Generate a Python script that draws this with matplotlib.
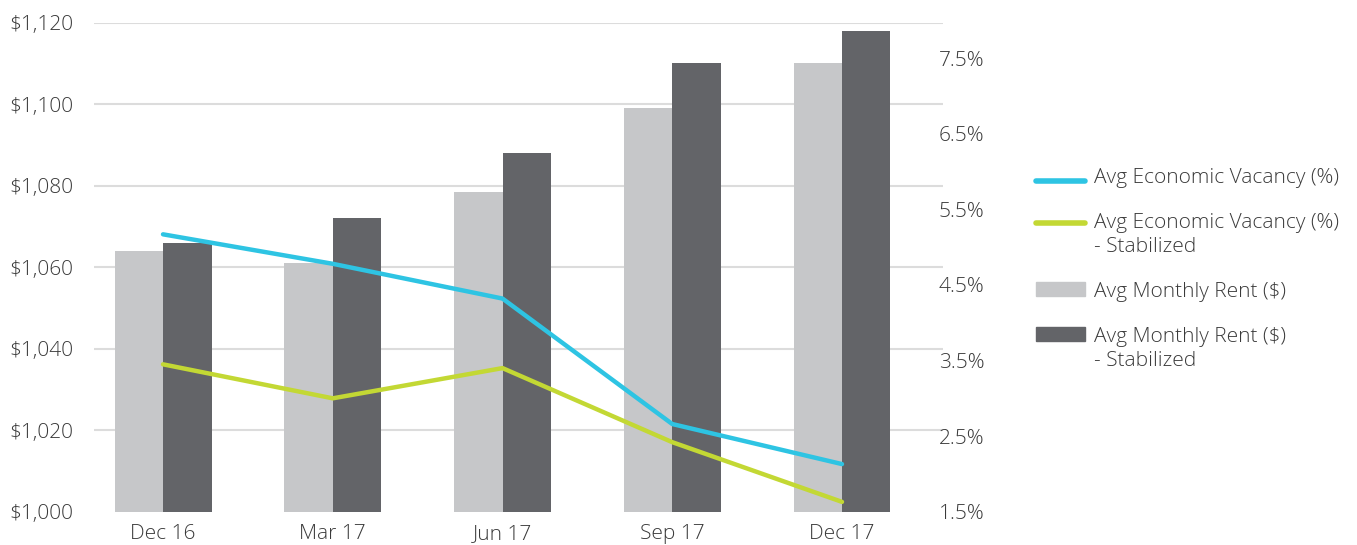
import matplotlib
matplotlib.use("Agg")
import matplotlib.pyplot as plt
import numpy as np
from matplotlib.lines import Line2D
from matplotlib.patches import Rectangle
from matplotlib import font_manager

# ---- data ----
categories = ["Dec 16", "Mar 17", "Jun 17", "Sep 17", "Dec 17"]
rent = [1064, 1061, 1078.5, 1099, 1110]
rent_stab = [1066, 1072, 1088, 1110, 1118]
vacancy = [5.17, 4.78, 4.32, 2.66, 2.13]
vacancy_stab = [3.45, 3.00, 3.40, 2.42, 1.63]
left_ticks = [1000, 1020, 1040, 1060, 1080, 1100, 1120]
left_labels = ["$1,000", "$1,020", "$1,040", "$1,060", "$1,080", "$1,100", "$1,120"]
right_ticks = [1.5, 2.5, 3.5, 4.5, 5.5, 6.5, 7.5]
right_labels = ["1.5%", "2.5%", "3.5%", "4.5%", "5.5%", "6.5%", "7.5%"]
legend_labels = ["Avg Economic Vacancy (%)", "Avg Economic Vacancy (%)\n- Stabilized",
                 "Avg Monthly Rent ($)", "Avg Monthly Rent ($)\n- Stabilized"]

# ---- style ----
FONT = ["Open Sans", "DejaVu Sans"]
plt.rcParams["font.family"] = FONT
plt.rcParams["font.weight"] = "light"
TXT = "#3a3a3a"
C_LIGHT = "#c6c7c9"
C_DARK = "#636468"
C_BLUE = "#2ec4e3"
C_GREEN = "#c3d834"
GRID = "#dcdcdc"

W, H = 1357, 545
fig = plt.figure(figsize=(W / 100, H / 100), dpi=100)
ax_l, ax_r, ax_b, ax_t = 94, 943, 511.7, 22.7
ax = fig.add_axes([ax_l / W, 1 - ax_b / H, (ax_r - ax_l) / W, (ax_b - ax_t) / H])
ax2 = ax.twinx()

x = np.arange(len(categories))
bw = 0.2857
ax.bar(x - bw / 2, rent, width=bw, color=C_LIGHT, zorder=2)
ax.bar(x + bw / 2, rent_stab, width=bw, color=C_DARK, zorder=2)
ax.set_ylim(1000, 1120)
ax.set_xlim(-0.4065, 4.595)
ax.hlines(left_ticks[1:], -0.4065, 4.595, colors=GRID, linewidth=1.5, zorder=1)

ax.set_yticks(left_ticks)
ax.set_yticklabels(left_labels)
ax.set_xticks(x)
ax.set_xticklabels(categories)
ax.tick_params(axis="y", length=0, pad=15, labelsize=15, labelcolor=TXT)
ax.tick_params(axis="x", length=0, pad=9, labelsize=15, labelcolor=TXT)

ax2.plot(x, vacancy, color=C_BLUE, linewidth=3.2, solid_capstyle="round", zorder=3)
ax2.plot(x, vacancy_stab, color=C_GREEN, linewidth=3.2, solid_capstyle="round", zorder=3)
ax2.set_ylim(1.5, 7.97)
ax2.set_yticks(right_ticks)
ax2.set_yticklabels(right_labels)
ax2.tick_params(axis="y", length=0, pad=-3, labelsize=15, labelcolor=TXT)

for a in (ax, ax2):
    for s in a.spines.values():
        s.set_visible(False)

# ---- legend (manual, first-line aligned) ----
def fx(px):
    return px / W

def fy(py):
    return 1 - py / H

hx0, hx1, tx = 1036, 1085, 1094
fs = 15
for col, ly, base, lab in [(C_BLUE, 181, 183.3, legend_labels[0]),
                           (C_GREEN, 223.3, 228, legend_labels[1])]:
    fig.add_artist(Line2D([fx(hx0), fx(hx1)], [fy(ly), fy(ly)], color=col,
                          linewidth=4, solid_capstyle="round", transform=fig.transFigure))
    for i, part in enumerate(lab.split("\n")):
        fig.text(fx(tx), fy(base + 24 * i), part, fontsize=fs, color=TXT,
                 va="baseline", ha="left")
for col, ptop, base, lab in [(C_LIGHT, 281.7, 296.7, legend_labels[2]),
                             (C_DARK, 327, 342, legend_labels[3])]:
    fig.add_artist(Rectangle((fx(hx0), fy(ptop + 14)), fx(hx1 - hx0), 14 / H,
                             color=col, transform=fig.transFigure))
    for i, part in enumerate(lab.split("\n")):
        fig.text(fx(tx), fy(base + 24.5 * i), part, fontsize=fs, color=TXT,
                 va="baseline", ha="left")

fig.savefig("out.png", dpi=100)
